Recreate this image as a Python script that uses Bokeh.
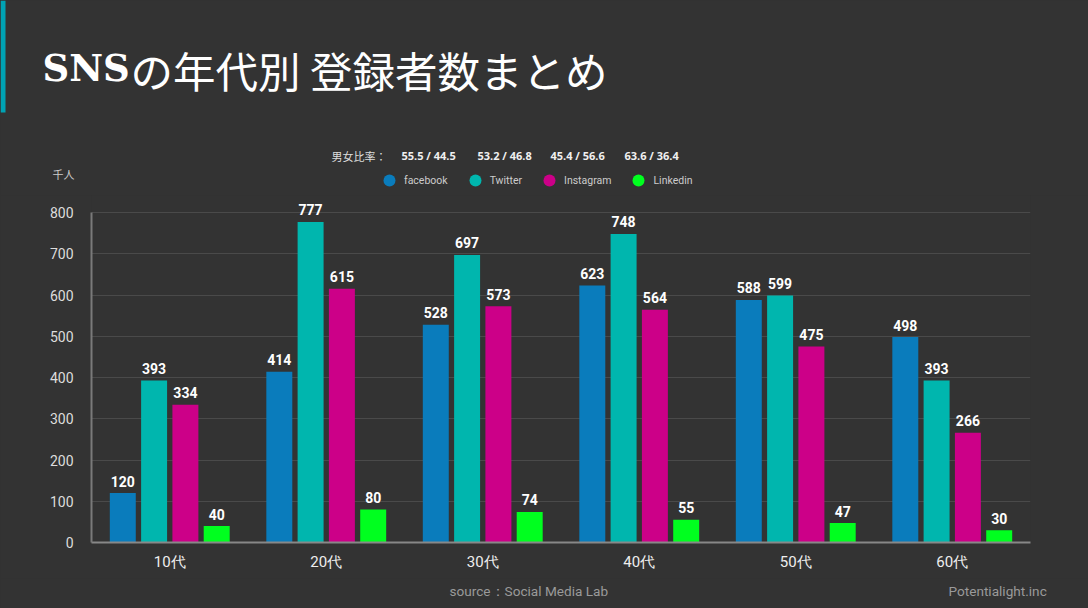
from bokeh.plotting import figure
from bokeh.models import (ColumnDataSource, FactorRange, Range1d, Legend, LegendItem,
                          Label, FixedTicker)
from bokeh.core.properties import value
from bokeh.transform import dodge
from bokeh.embed import file_html
from bokeh.resources import INLINE

# ---------------- data ----------------
ages = ["10代", "20代", "30代", "40代", "50代", "60代"]
series = ["facebook", "Twitter", "Instagram", "Linkedin"]
facebook = [120, 414, 528, 623, 588, 498]
twitter = [393, 777, 697, 748, 599, 393]
instagram = [334, 615, 573, 564, 475, 266]
linkedin = [40, 80, 74, 55, 47, 30]
ratios = ["55.5 / 44.5", "53.2 / 46.8", "45.4 / 56.6", "63.6 / 36.4"]
yticks = [0, 100, 200, 300, 400, 500, 600, 700, 800]

colors = ["#0a7cbc", "#00b6ae", "#cc0088", "#00ff1f"]
offsets = [-0.3, -0.1, 0.1, 0.3]
BG = "#333333"

W = 1088
TOP_H, MAIN_H, FOOT_H = 195, 383, 30
ML, MR = 91, 58
PLOT_TOP, PLOT_BOT = 212, 542          # pixel rows of 800 and 0
FRAME_H = PLOT_BOT - TOP_H              # frame from y=195 to y=542


def blank(h):
    f = figure(width=W, height=h, x_range=Range1d(0, W), y_range=Range1d(h, 0),
               x_axis_type=None, y_axis_type=None, output_backend="svg",
               toolbar_location=None, min_border=0)
    f.background_fill_color = BG
    f.border_fill_color = BG
    f.outline_line_color = None
    f.xgrid.visible = False
    f.ygrid.visible = False
    return f


def lab(f, text, x, y, size, color="#ffffff", font="Roboto", style="normal",
        baseline="middle", align="left"):
    f.add_layout(Label(x=x, y=y, text=text, text_font_size=size, text_color=color,
                       text_font=font, text_font_style=style,
                       text_baseline=baseline, text_align=align))


# ---------------- header ----------------
top = blank(TOP_H)
top.quad(left=0, right=5, top=0, bottom=112, fill_color="#00a3b4", line_color=None)
lab(top, "SNS", 42, 67, "37px", "#ffffff", "DejaVu Serif", "bold", "alphabetic")
lab(top, "の年代別 登録者数まとめ", 130, 69, "42.5px", "#ffffff", "Noto Sans CJK JP",
    "normal", "alphabetic")
lab(top, "千人", 52, 173, "11px", "#cccccc", "Noto Sans CJK JP")
lab(top, "男女比率：", 331, 155, "11px", "#dddddd", "Noto Sans CJK JP")
for t, x in zip(ratios, [401, 477, 550, 624]):
    lab(top, t, x, 155, "11px", "#f0f0f0", "Open Sans", "bold")

items = []
for name, col in zip(series, colors):
    # off-canvas anchor point: only its legend swatch is shown
    r = top.scatter(x=[-1000], y=[-1000], size=14, fill_color=col, line_color=None)
    items.append(LegendItem(label=name, renderers=[r]))
legend = Legend(items=items, orientation="horizontal", location=(374, -2),
                glyph_width=30, glyph_height=34, label_standoff=0, spacing=12,
                padding=0, margin=0, border_line_color=None,
                background_fill_alpha=0, label_text_color="#cccccc",
                label_text_font="Roboto", label_text_font_size="10.5px")
top.add_layout(legend, "center")

# ---------------- main chart ----------------
y_end = 800 * FRAME_H / (PLOT_BOT - PLOT_TOP)
p = figure(x_range=FactorRange(factors=ages, range_padding=0),
           y_range=Range1d(0, y_end),
           width=W, height=MAIN_H, output_backend="svg", toolbar_location=None,
           min_border_left=ML, min_border_right=MR, min_border_top=0,
           min_border_bottom=MAIN_H - FRAME_H)
p.background_fill_color = BG
p.border_fill_color = BG
p.outline_line_color = None

data = dict(age=ages)
vals = [facebook, twitter, instagram, linkedin]
for name, v in zip(series, vals):
    data[name] = v
    data[name + "_lbl"] = [str(a) for a in v]
src = ColumnDataSource(data)

for name, col, off in zip(series, colors, offsets):
    p.vbar(x=dodge("age", off, range=p.x_range), top=name, width=0.166,
           source=src, fill_color=col, line_color=None)
    p.text(x=dodge("age", off, range=p.x_range), y=name, text=name + "_lbl",
           source=src, y_offset=-12, text_align="center",
           text_baseline="alphabetic", text_color="#ffffff",
           text_font=value("Roboto"), text_font_style="bold",
           text_font_size="14px")

p.yaxis.ticker = FixedTicker(ticks=yticks)
p.yaxis.bounds = (0, 800)
p.yaxis.major_tick_line_color = None
p.yaxis.minor_tick_line_color = None
p.yaxis.axis_line_color = "#7a7a7a"
p.yaxis.axis_line_width = 2
p.yaxis.major_label_text_color = "#dddddd"
p.yaxis.major_label_text_font = "Roboto"
p.yaxis.major_label_text_font_size = "14px"
p.yaxis.major_label_standoff = 12

p.xaxis.major_tick_line_color = None
p.xaxis.minor_tick_line_color = None
p.xaxis.axis_line_color = "#888888"
p.xaxis.axis_line_width = 2
p.xaxis.major_label_text_color = "#eeeeee"
p.xaxis.major_label_text_font = "Roboto"
p.xaxis.major_label_text_font_size = "15px"
p.xaxis.major_label_standoff = 4

p.xgrid.grid_line_color = None
p.ygrid.grid_line_color = "#4a4a4a"
p.ygrid.grid_line_width = 1

# ---------------- footer ----------------
foot = blank(FOOT_H)
lab(foot, "source：Social Media Lab", 449, 12, "13.6px", "#9a9a9a", "Roboto")
lab(foot, "Potentialight.inc", 948, 12, "13.6px", "#9a9a9a", "Roboto")

html = file_html([top, p, foot], INLINE, title="SNSの年代別 登録者数まとめ")
html = html.replace("</head>", "<style>body{background:#333333;}</style></head>")
open("out.html", "w").write(html)
